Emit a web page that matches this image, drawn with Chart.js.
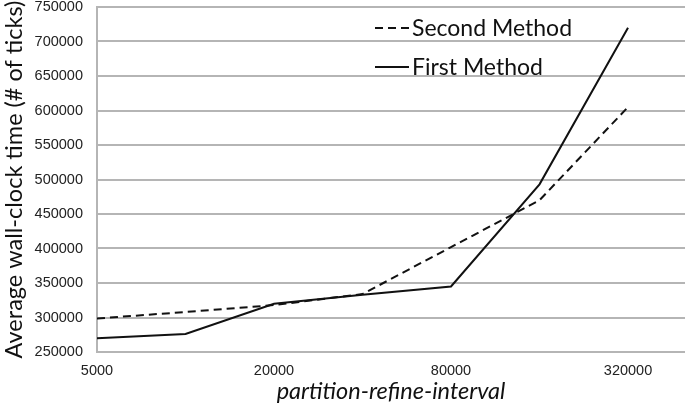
<!DOCTYPE html>
<html>
<head>
<meta charset="utf-8">
<script src="https://cdn.jsdelivr.net/npm/chart.js@4"></script>
<style>
  html, body { margin: 0; padding: 0; background: #fff; }
  #wrap { width: 685px; height: 405px; position: relative; }
</style>
</head>
<body>
<div id="wrap"><canvas id="myChart"></canvas></div>
<script>
// partition-refine-interval values
const intervals = [5000, 10000, 20000, 40000, 80000, 160000, 320000];
const xTickLabels = [5000, 20000, 80000, 320000];

// average wall-clock time (# of ticks)
const firstMethod = [270000, 276000, 320000, 333000, 345000, 493000, 720000];
const secondMethod = [298500, 308000, 318000, 334000, 402000, 470000, 605000];

const gridGrey = '#b5b5b5';
const titleFont = 'Lato, "Open Sans", sans-serif';
const tickFont = '"Liberation Sans", Arial, sans-serif';

function toPoints(values) {
    return intervals.map((x, i) => ({ x: x, y: values[i] }));
}

// legend drawn inside the plot, Second Method on top
const insideLegend = {
    id: 'insideLegend',
    afterDraw(chart) {
        const ctx = chart.ctx;
        const order = [1, 0];
        ctx.save();
        ctx.font = '23px ' + titleFont;
        ctx.textBaseline = 'alphabetic';
        ctx.fillStyle = '#111';
        order.forEach((dsIndex, row) => {
            const ds = chart.data.datasets[dsIndex];
            const y = 28 + row * 39;
            ctx.beginPath();
            ctx.setLineDash(ds.borderDash || []);
            ctx.lineWidth = 2;
            ctx.strokeStyle = ds.borderColor;
            ctx.moveTo(375, y);
            ctx.lineTo(409, y);
            ctx.stroke();
            ctx.setLineDash([]);
            ctx.fillText(ds.label, 412, y + 8);
        });
        ctx.restore();
    }
};

const ctx = document.getElementById('myChart').getContext('2d');
const myChart = new Chart(ctx, {
    type: 'line',
    data: {
        datasets: [{
            label: 'First Method',
            data: toPoints(firstMethod),
            borderColor: '#111',
            borderWidth: 2,
            pointRadius: 0,
            fill: false,
            tension: 0
        }, {
            label: 'Second Method',
            data: toPoints(secondMethod),
            borderColor: '#111',
            borderWidth: 2,
            borderDash: [8, 5],
            pointRadius: 0,
            fill: false,
            tension: 0
        }]
    },
    options: {
        responsive: true,
        maintainAspectRatio: false,
        animation: false,
        layout: { padding: { top: 0, right: 0, bottom: 0, left: 0 } },
        plugins: {
            legend: { display: false },
            tooltip: { enabled: false }
        },
        scales: {
            x: {
                type: 'logarithmic',
                min: 5000,
                max: 500000,
                afterBuildTicks: (scale) => {
                    scale.ticks = xTickLabels.map(v => ({ value: v }));
                },
                afterFit: (scale) => {
                    scale.height = 53;
                    scale.paddingLeft = 0;
                    scale.paddingRight = 0;
                },
                grid: { display: false, drawTicks: false },
                border: { display: true, color: gridGrey, width: 2 },
                ticks: {
                    autoSkip: false,
                    maxRotation: 0,
                    padding: 10,
                    color: '#222',
                    font: { family: tickFont, size: 14.5 },
                    callback: (v) => String(v)
                },
                title: {
                    display: true,
                    text: 'partition-refine-interval',
                    color: '#111',
                    padding: { top: 0, bottom: 1 },
                    font: { family: titleFont, size: 23.5, style: 'italic', lineHeight: 1.1 }
                }
            },
            y: {
                min: 250000,
                max: 750000,
                afterFit: (scale) => {
                    scale.width = 97;
                    scale.paddingTop = 7;
                    scale.paddingBottom = 0;
                },
                grid: { color: gridGrey, lineWidth: 2, drawTicks: false },
                border: { display: true, color: gridGrey, width: 2 },
                ticks: {
                    stepSize: 50000,
                    padding: 14,
                    color: '#222',
                    font: { family: tickFont, size: 14.5, lineHeight: 1 },
                    callback: (v) => String(v)
                },
                title: {
                    display: true,
                    text: 'Average wall-clock time (# of ticks)',
                    color: '#111',
                    padding: 0,
                    font: { family: titleFont, size: 23.5 }
                }
            }
        }
    },
    plugins: [insideLegend]
});
</script>
</body>
</html>
